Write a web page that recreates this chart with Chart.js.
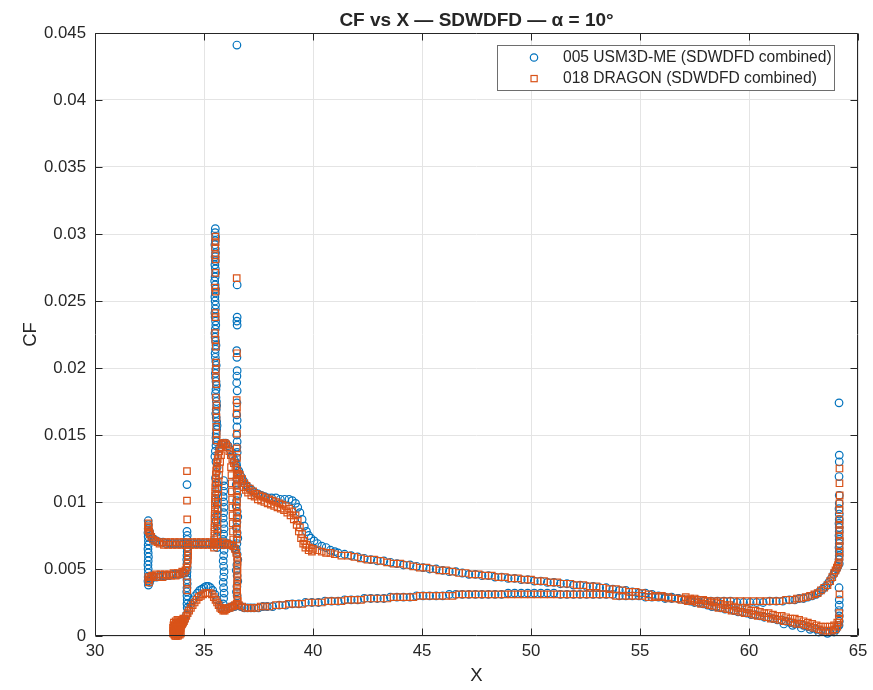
<!DOCTYPE html>
<html>
<head>
<meta charset="utf-8">
<script src="https://cdn.jsdelivr.net/npm/chart.js@4.4.1/dist/chart.umd.min.js"></script>
<style>
  html, body { margin: 0; padding: 0; background: #fff; }
  canvas { display: block; }
</style>
</head>
<body>
<canvas id="c" width="873" height="690" style="width:873px;height:690px"></canvas>
<script>
// ---------------- DATA ----------------
const chartTitle = 'CF vs X \u2014 SDWDFD \u2014 \u03b1 = 10\u00b0';
const xLabel = 'X';
const yLabel = 'CF';
const xTicks = [30, 35, 40, 45, 50, 55, 60, 65];
const yTicks = [0, 0.005, 0.01, 0.015, 0.02, 0.025, 0.03, 0.035, 0.04, 0.045];
const seriesNames = ['005 USM3D-ME (SDWDFD combined)', '018 DRAGON (SDWDFD combined)'];

// ---- 005 USM3D-ME ----
const usmNacelleEdge = [[32.44,0.0086],[32.45,0.0083],[32.44,0.0080],[32.43,0.0077],[32.44,0.0074],[32.45,0.0071],[32.44,0.0068],[32.43,0.0065],[32.44,0.0062],[32.45,0.0059],[32.44,0.0056],[32.43,0.0053],[32.44,0.0050],[32.45,0.0047],[32.44,0.0044],[32.43,0.0041],[32.45,0.0038]];
const usmNacelleUpper = [[32.5,0.0078],[32.56,0.0075],[32.63,0.0073],[32.72,0.0072],[32.83,0.0071],[32.97,0.0070],[33.12,0.0070],[33.27,0.0069],[33.42,0.0069],[33.57,0.0069],[33.72,0.0069],[33.87,0.0069],[34.02,0.0069],[34.17,0.0069],[34.32,0.0069],[34.47,0.0069],[34.62,0.0069],[34.77,0.0069],[34.92,0.0069],[35.07,0.0069],[35.22,0.0069],[35.37,0.0069],[35.52,0.0069],[35.67,0.0069],[35.82,0.0069],[35.97,0.0069],[36.12,0.0069],[36.27,0.0068],[36.38,0.0066],[36.45,0.0064]];
const usmNacelleLower = [[32.5,0.0040],[32.58,0.0043],[32.68,0.0044],[32.82,0.0044],[32.97,0.0045],[33.12,0.0045],[33.27,0.0045],[33.42,0.0045],[33.57,0.0046],[33.72,0.0046],[33.87,0.0046],[34.02,0.0047],[34.12,0.0047]];
const usmStrut = [[34.22,0.0113],[34.22,0.0078],[34.23,0.0075],[34.22,0.0072],[34.21,0.0069],[34.22,0.0066],[34.23,0.0063],[34.22,0.0060],[34.21,0.0057],[34.22,0.0054],[34.23,0.0051],[34.22,0.0048],[34.21,0.0045],[34.22,0.0042],[34.23,0.0039],[34.22,0.0036],[34.21,0.0033],[34.22,0.0030],[34.23,0.0027],[34.22,0.0024],[34.23,0.0021]];
const usmLeadingEdge = [[33.62,0.0003],[33.68,0.0002],[33.74,0.0003],[33.8,0.0004],[33.86,0.0004],[33.92,0.0006],[33.98,0.0008],[34.04,0.0010],[34.1,0.0012],[34.2,0.0016],[34.3,0.0020],[34.4,0.0024],[34.5,0.0027],[34.6,0.0030],[34.7,0.0032],[34.8,0.0034],[34.9,0.0035],[35.0,0.0036],[35.1,0.0037],[35.2,0.0037],[35.3,0.0036],[35.4,0.0034],[35.5,0.0031],[35.6,0.0027],[35.7,0.0023],[35.8,0.0021],[35.9,0.0020],[36.0,0.0020],[36.1,0.0021],[36.2,0.0021],[36.3,0.0022],[36.4,0.0022],[36.55,0.0023]];
const usmSpike = [[35.52,0.0304],[35.51,0.0301],[35.53,0.0298],[35.52,0.0295],[35.50,0.0292],[35.52,0.0289],[35.53,0.0286],[35.51,0.0283],[35.52,0.0280],[35.50,0.0277],[35.52,0.0274],[35.53,0.0271],[35.51,0.0268],[35.49,0.0265],[35.51,0.0262],[35.53,0.0259],[35.52,0.0256],[35.50,0.0253],[35.51,0.0250],[35.53,0.0247],[35.52,0.0244],[35.50,0.0241],[35.51,0.0238],[35.53,0.0235],[35.54,0.0232],[35.52,0.0229],[35.50,0.0226],[35.51,0.0223],[35.53,0.0220],[35.55,0.0217],[35.53,0.0214],[35.51,0.0211],[35.52,0.0208],[35.54,0.0205],[35.56,0.0202],[35.54,0.0199],[35.52,0.0196],[35.53,0.0193],[35.55,0.0190],[35.57,0.0187],[35.55,0.0184],[35.53,0.0181],[35.55,0.0178],[35.57,0.0175],[35.58,0.0172],[35.56,0.0169],[35.54,0.0166],[35.56,0.0163],[35.58,0.0160],[35.60,0.0157],[35.58,0.0154],[35.56,0.0151],[35.55,0.0148],[35.57,0.0145],[35.55,0.0142],[35.52,0.0138],[35.50,0.0134],[35.55,0.0130],[35.60,0.0126],[35.57,0.0122],[35.53,0.0118],[35.58,0.0114],[35.62,0.0110],[35.58,0.0106],[35.54,0.0102],[35.6,0.0098],[35.63,0.0094],[35.58,0.0090],[35.55,0.0086],[35.6,0.0082],[35.63,0.0078],[35.58,0.0074],[35.55,0.0070],[35.6,0.0066]];
const usmInnerColumn = [[35.9,0.0116],[35.92,0.0112],[35.9,0.0108],[35.88,0.0104],[35.9,0.0100],[35.92,0.0096],[35.9,0.0092],[35.88,0.0088],[35.9,0.0084],[35.92,0.0080],[35.9,0.0076],[35.88,0.0072],[35.9,0.0068],[35.92,0.0064],[35.9,0.0060],[35.88,0.0056],[35.9,0.0052],[35.92,0.0048],[35.9,0.0044],[35.88,0.0040],[35.9,0.0036],[35.92,0.0032],[35.9,0.0028],[35.88,0.0024]];
const usmAftColumn = [[36.51,0.0441],[36.52,0.0262],[36.52,0.0238],[36.51,0.0235],[36.52,0.0232],[36.5,0.0213],[36.51,0.0208],[36.52,0.0198],[36.51,0.0194],[36.5,0.0189],[36.52,0.0183],[36.51,0.0174],[36.5,0.0165],[36.52,0.0161],[36.51,0.0156],[36.5,0.0150],[36.52,0.0145],[36.51,0.0141],[36.52,0.0137],[36.5,0.0133],[36.48,0.0129],[36.52,0.0125],[36.54,0.0121],[36.5,0.0117],[36.48,0.0113],[36.52,0.0109],[36.54,0.0105],[36.5,0.0101],[36.48,0.0097],[36.52,0.0093],[36.55,0.0089],[36.51,0.0085],[36.48,0.0081],[36.52,0.0077],[36.55,0.0073],[36.51,0.0069],[36.48,0.0065],[36.52,0.0061],[36.55,0.0057],[36.51,0.0053],[36.48,0.0049],[36.52,0.0045],[36.55,0.0041],[36.51,0.0037],[36.49,0.0033],[36.52,0.0030]];
const usmUpperSurface = [[35.7,0.0140],[35.8,0.0143],[35.9,0.0144],[36.0,0.0144],[36.1,0.0142],[36.2,0.0139],[36.3,0.0135],[36.4,0.0131],[36.5,0.0127],[36.6,0.0123],[36.7,0.0119],[36.8,0.0116],[36.9,0.0113],[37.03,0.0111],[37.18,0.0109],[37.33,0.0107],[37.48,0.0106],[37.63,0.0105],[37.78,0.0104],[37.93,0.0103],[38.1,0.0103],[38.3,0.0103],[38.5,0.0102],[38.7,0.0102],[38.9,0.0102],[39.05,0.0101],[39.2,0.0099],[39.3,0.0096],[39.4,0.0092],[39.5,0.0087],[39.6,0.0082],[39.7,0.0078],[39.8,0.0075],[39.9,0.0073],[40.05,0.0071],[40.2,0.0069],[40.4,0.0067],[40.6,0.0066],[40.8,0.0064],[41.0,0.0063],[41.15,0.0062],[41.45,0.0061],[41.75,0.0060],[42.05,0.0059],[42.35,0.0058],[42.65,0.0057],[42.95,0.0056],[43.25,0.0056],[43.55,0.0055],[43.85,0.0054],[44.15,0.0053],[44.45,0.0053],[44.75,0.0052],[45.05,0.0051],[45.35,0.0050],[45.65,0.0050],[45.95,0.0049],[46.25,0.0048],[46.55,0.0048],[46.85,0.0047],[47.15,0.0046],[47.45,0.0046],[47.75,0.0045],[48.05,0.0045],[48.35,0.0044],[48.65,0.0044],[48.95,0.0043],[49.25,0.0043],[49.55,0.0042],[49.85,0.0042],[50.15,0.0041],[50.45,0.0041],[50.75,0.0040],[51.05,0.0040],[51.35,0.0039],[51.65,0.0039],[51.95,0.0038],[52.25,0.0038],[52.55,0.0037],[52.85,0.0037],[53.15,0.0036],[53.45,0.0036],[53.75,0.0035],[54.05,0.0034],[54.35,0.0034],[54.65,0.0033],[54.95,0.0032],[55.25,0.0032],[55.55,0.0031],[55.85,0.0030],[56.15,0.0029],[56.45,0.0029],[56.75,0.0028],[57.05,0.0027],[57.3,0.0026],[57.5,0.0025],[57.7,0.0025],[57.9,0.0024],[58.1,0.0023],[58.3,0.0022],[58.5,0.0022],[58.7,0.0021],[58.9,0.0020],[59.1,0.0020],[59.3,0.0019],[59.5,0.0018],[59.7,0.0018],[59.9,0.0017],[60.1,0.0016],[60.3,0.0016],[60.5,0.0015],[60.7,0.0014],[60.9,0.0014],[61.1,0.0013],[61.3,0.0012],[61.5,0.0012],[61.7,0.0011],[61.9,0.0010],[62.1,0.0009],[62.3,0.0009],[62.5,0.0008],[62.7,0.0007],[62.9,0.0006],[63.1,0.0005],[63.3,0.0004],[63.5,0.0003],[63.7,0.0003],[63.85,0.0004],[64.0,0.0005],[64.1,0.0008]];
const usmLowerSurface = [[36.7,0.0022],[36.85,0.0021],[37.0,0.0021],[37.15,0.0021],[37.3,0.0021],[37.5,0.0021],[37.7,0.0022],[37.9,0.0022],[38.15,0.0022],[38.45,0.0023],[38.75,0.0023],[39.05,0.0024],[39.35,0.0024],[39.65,0.0025],[39.95,0.0025],[40.25,0.0025],[40.55,0.0026],[40.85,0.0026],[41.15,0.0026],[41.45,0.0027],[41.75,0.0027],[42.05,0.0027],[42.35,0.0028],[42.65,0.0028],[42.95,0.0028],[43.25,0.0028],[43.55,0.0029],[43.85,0.0029],[44.15,0.0029],[44.45,0.0029],[44.75,0.0030],[45.05,0.0030],[45.35,0.0030],[45.65,0.0030],[45.95,0.0030],[46.25,0.0031],[46.55,0.0031],[46.85,0.0031],[47.15,0.0031],[47.45,0.0031],[47.75,0.0031],[48.05,0.0031],[48.35,0.0031],[48.65,0.0031],[48.95,0.0032],[49.25,0.0032],[49.55,0.0032],[49.85,0.0032],[50.15,0.0032],[50.45,0.0032],[50.75,0.0032],[51.05,0.0032],[51.35,0.0031],[51.65,0.0031],[51.95,0.0031],[52.25,0.0031],[52.55,0.0031],[52.85,0.0031],[53.15,0.0031],[53.45,0.0031],[53.75,0.0031],[54.05,0.0030],[54.35,0.0030],[54.65,0.0030],[54.95,0.0030],[55.25,0.0029],[55.55,0.0029],[55.85,0.0029],[56.15,0.0028],[56.45,0.0028],[56.75,0.0028],[57.05,0.0027],[57.35,0.0027],[57.65,0.0027],[57.95,0.0026],[58.25,0.0026],[58.55,0.0026],[58.85,0.0026],[59.15,0.0026],[59.45,0.0025],[59.75,0.0025],[60.05,0.0025],[60.35,0.0025],[60.65,0.0025],[60.95,0.0026],[61.25,0.0026],[61.55,0.0026],[61.85,0.0027],[62.1,0.0027],[62.3,0.0028],[62.5,0.0028],[62.7,0.0029],[62.9,0.0030],[63.08,0.0031],[63.22,0.0033],[63.38,0.0035],[63.52,0.0037],[63.66,0.0040],[63.78,0.0043],[63.88,0.0046],[63.95,0.0048],[64.02,0.0050],[64.08,0.0052]];
const usmTrailingBand = [[61.6,0.0009],[62.0,0.0008],[62.4,0.0006],[62.8,0.0005],[63.2,0.0003],[63.6,0.0002],[63.9,0.0003]];
const usmTrailingEdge = [[64.13,0.0174],[64.14,0.0135],[64.14,0.0130],[64.13,0.0119],[64.14,0.0105],[64.14,0.0099],[64.13,0.0095],[64.14,0.0091],[64.14,0.0087],[64.13,0.0084],[64.14,0.0081],[64.14,0.0078],[64.13,0.0075],[64.14,0.0072],[64.14,0.0069],[64.13,0.0066],[64.14,0.0063],[64.14,0.0060],[64.13,0.0057],[64.14,0.0054],[64.13,0.0036],[64.14,0.0027],[64.14,0.0023],[64.13,0.0019],[64.14,0.0015],[64.14,0.0011],[64.13,0.0008]];

// ---- 018 DRAGON ----
const dragonNacelleUpper = [[32.44,0.0082],[32.44,0.0079],[32.45,0.0084],[32.46,0.0081],[32.48,0.0078],[32.52,0.0076],[32.58,0.0074],[32.66,0.0072],[32.76,0.0071],[32.86,0.0070],[32.96,0.0069],[33.06,0.0070],[33.16,0.0068],[33.26,0.0070],[33.36,0.0068],[33.46,0.0070],[33.56,0.0068],[33.66,0.0070],[33.76,0.0068],[33.86,0.0070],[33.96,0.0068],[34.06,0.0070],[34.16,0.0068],[34.26,0.0070],[34.36,0.0068],[34.46,0.0070],[34.56,0.0068],[34.66,0.0070],[34.76,0.0068],[34.86,0.0070],[34.96,0.0068],[35.06,0.0070],[35.16,0.0068],[35.26,0.0070],[35.36,0.0068],[35.46,0.0070],[35.56,0.0068],[35.66,0.0070],[35.76,0.0068],[35.86,0.0070],[35.96,0.0068],[36.06,0.0069],[36.16,0.0068],[36.26,0.0068],[36.34,0.0067],[36.42,0.0065],[36.48,0.0062],[36.52,0.0059],[36.54,0.0056]];
const dragonNacelleLower = [[32.45,0.0044],[32.45,0.0042],[32.47,0.0040],[32.5,0.0042],[32.55,0.0044],[32.62,0.0045],[32.7,0.0044],[32.8,0.0046],[32.9,0.0044],[33.0,0.0046],[33.1,0.0044],[33.2,0.0046],[33.3,0.0045],[33.4,0.0046],[33.5,0.0045],[33.6,0.0047],[33.7,0.0045],[33.8,0.0047],[33.9,0.0046],[34.0,0.0048],[34.08,0.0047],[34.15,0.0049],[34.2,0.0051],[34.24,0.0054],[34.26,0.0057],[34.27,0.0060],[34.27,0.0063],[34.27,0.0066]];
const dragonStrut = [[34.22,0.0123],[34.22,0.0101],[34.23,0.0087],[34.22,0.0040],[34.23,0.0034]];
const dragonLeadingEdge = [[33.6,0.0004],[33.62,0.0002],[33.65,0.0006],[33.67,0.0001],[33.7,0.0003],[33.72,0.0000],[33.74,0.0005],[33.76,0.0002],[33.78,0.0007],[33.8,0.0003],[33.82,0.0001],[33.84,0.0005],[33.86,0.0003],[33.88,0.0007],[33.9,0.0004],[33.93,0.0006],[33.96,0.0008],[34.0,0.0009],[34.04,0.0010],[34.08,0.0011],[34.13,0.0013],[34.19,0.0015],[34.25,0.0017],[34.32,0.0019],[34.4,0.0021],[34.48,0.0023],[34.57,0.0025],[34.66,0.0027],[34.76,0.0029],[34.86,0.0030],[34.96,0.0031],[35.06,0.0032],[35.16,0.0032],[35.26,0.0032],[35.36,0.0031],[35.45,0.0029],[35.53,0.0027],[35.6,0.0025],[35.67,0.0023],[35.74,0.0021],[35.81,0.0020],[35.88,0.0019],[35.95,0.0019],[36.02,0.0020],[36.1,0.0021],[36.18,0.0021],[36.26,0.0022],[36.34,0.0022],[36.42,0.0023],[36.5,0.0024]];
const dragonLeadingEdgeBlob = [[33.58,0.0006],[33.6,0.0008],[33.63,0.0004],[33.66,0.0008],[33.69,0.0005],[33.71,0.0009],[33.73,0.0002],[33.75,0.0008],[33.77,0.0004],[33.79,0.0010],[33.81,0.0006],[33.83,0.0009],[33.85,0.0007],[33.87,0.0010],[33.89,0.0001],[33.91,0.0008],[33.68,0.0000],[33.64,0.0001],[33.8,0.0000],[33.96,0.0011],[34.0,0.0012],[34.05,0.0013],[33.62,0.0010],[33.7,0.0011],[33.74,0.0006],[33.78,0.0012],[33.86,0.0012],[33.92,0.0011],[33.66,0.0003],[33.82,0.0003],[33.94,0.0002],[33.58,0.0002]];
const dragonSpike = [[35.52,0.0298],[35.53,0.0294],[35.51,0.0290],[35.52,0.0284],[35.53,0.0281],[35.52,0.0271],[35.51,0.0260],[35.53,0.0257],[35.52,0.0241],[35.53,0.0238],[35.51,0.0226],[35.52,0.0221],[35.54,0.0216],[35.55,0.0204],[35.54,0.0199],[35.55,0.0193],[35.56,0.0188],[35.55,0.0178],[35.57,0.0172],[35.56,0.0168],[35.57,0.0163],[35.56,0.0156],[35.58,0.0151],[35.57,0.0146],[36.5,0.0267],[36.51,0.0211],[36.5,0.0176],[36.51,0.0171],[36.5,0.0166],[36.51,0.0151],[36.5,0.0140],[36.51,0.0133]];
const dragonLoop = [[35.46,0.0066],[35.47,0.0069],[35.47,0.0072],[35.48,0.0075],[35.48,0.0078],[35.48,0.0081],[35.49,0.0084],[35.49,0.0087],[35.49,0.0090],[35.5,0.0093],[35.5,0.0096],[35.5,0.0099],[35.51,0.0102],[35.51,0.0105],[35.52,0.0108],[35.52,0.0111],[35.53,0.0114],[35.54,0.0117],[35.55,0.0120],[35.56,0.0123],[35.58,0.0126],[35.6,0.0129],[35.63,0.0132],[35.66,0.0135],[35.7,0.0138],[35.75,0.0141],[35.81,0.0143],[35.88,0.0144],[35.95,0.0144],[36.02,0.0143],[36.09,0.0141],[36.16,0.0138],[36.23,0.0135],[36.3,0.0132],[36.37,0.0129],[36.44,0.0126],[36.51,0.0124],[36.58,0.0121],[35.6,0.0070],[35.61,0.0075],[35.62,0.0080],[35.62,0.0085],[35.63,0.0090],[35.63,0.0095],[35.64,0.0100],[35.65,0.0105],[35.66,0.0110],[35.67,0.0115],[35.69,0.0120],[35.71,0.0125],[35.74,0.0130],[35.78,0.0135],[36.24,0.0126],[36.26,0.0120],[36.27,0.0114],[36.28,0.0108],[36.29,0.0102],[36.3,0.0096],[36.31,0.0090],[36.32,0.0084],[36.33,0.0078],[36.34,0.0072]];
const dragonAftColumn = [[36.5,0.0120],[36.51,0.0116],[36.5,0.0112],[36.52,0.0108],[36.5,0.0104],[36.51,0.0100],[36.5,0.0096],[36.52,0.0092],[36.5,0.0088],[36.51,0.0084],[36.5,0.0080],[36.52,0.0076],[36.5,0.0072],[36.53,0.0053],[36.53,0.0050],[36.53,0.0047],[36.53,0.0044],[36.53,0.0041],[36.52,0.0038],[36.52,0.0035],[36.52,0.0032],[36.53,0.0029],[36.55,0.0026]];
const dragonUpperSurface = [[36.65,0.0120],[36.75,0.0117],[36.85,0.0114],[36.95,0.0112],[37.1,0.0110],[37.25,0.0108],[37.4,0.0106],[37.55,0.0105],[37.7,0.0104],[37.85,0.0103],[38.0,0.0102],[38.15,0.0101],[38.3,0.0100],[38.45,0.0099],[38.6,0.0098],[38.75,0.0097],[38.9,0.0095],[39.05,0.0093],[39.2,0.0090],[39.3,0.0086],[39.4,0.0081],[39.5,0.0076],[39.6,0.0071],[39.7,0.0068],[39.85,0.0066],[40.0,0.0065],[40.2,0.0064],[40.4,0.0063],[40.6,0.0062],[40.8,0.0062],[41.0,0.0061],[41.3,0.0060],[41.6,0.0060],[41.9,0.0059],[42.2,0.0058],[42.5,0.0057],[42.8,0.0057],[43.1,0.0056],[43.4,0.0055],[43.7,0.0054],[44.0,0.0054],[44.3,0.0053],[44.6,0.0052],[44.9,0.0051],[45.2,0.0051],[45.5,0.0050],[45.8,0.0049],[46.1,0.0049],[46.4,0.0048],[46.7,0.0047],[47.0,0.0047],[47.3,0.0046],[47.6,0.0046],[47.9,0.0045],[48.2,0.0045],[48.5,0.0044],[48.8,0.0044],[49.1,0.0043],[49.4,0.0043],[49.7,0.0042],[50.0,0.0042],[50.3,0.0041],[50.6,0.0041],[50.9,0.0040],[51.2,0.0040],[51.5,0.0039],[51.8,0.0039],[52.1,0.0038],[52.4,0.0038],[52.7,0.0037],[53.0,0.0037],[53.3,0.0036],[53.6,0.0035],[53.9,0.0035],[54.2,0.0034],[54.5,0.0033],[54.8,0.0033],[55.1,0.0032],[55.4,0.0031],[55.7,0.0030],[56.0,0.0030],[56.3,0.0029],[56.6,0.0028],[56.9,0.0027],[57.2,0.0026],[57.4,0.0026],[57.6,0.0025],[57.8,0.0024],[58.0,0.0024],[58.2,0.0023],[58.4,0.0022],[58.6,0.0021],[58.8,0.0021],[59.0,0.0020],[59.2,0.0019],[59.4,0.0019],[59.6,0.0018],[59.8,0.0017],[60.0,0.0017],[60.2,0.0016],[60.4,0.0015],[60.6,0.0015],[60.8,0.0014],[61.0,0.0013],[61.2,0.0013],[61.4,0.0012],[61.6,0.0011],[61.8,0.0011],[62.0,0.0010],[62.2,0.0009],[62.4,0.0009],[62.6,0.0008],[62.8,0.0007],[63.0,0.0006],[63.2,0.0005],[63.4,0.0004],[63.6,0.0004],[63.8,0.0004],[63.95,0.0005],[64.05,0.0007],[64.12,0.0010]];
const dragonUpperSurfaceInner = [[36.62,0.0117],[36.72,0.0114],[36.82,0.0111],[36.92,0.0109],[37.02,0.0107],[37.17,0.0105],[37.32,0.0104],[37.47,0.0102],[37.62,0.0101],[37.77,0.0100],[37.92,0.0099],[38.07,0.0098],[38.22,0.0097],[38.37,0.0096],[38.52,0.0095],[38.67,0.0094],[38.82,0.0092],[38.97,0.0090],[39.12,0.0087],[39.25,0.0083],[39.35,0.0078],[39.45,0.0073],[39.55,0.0069],[39.65,0.0066],[39.8,0.0064],[39.95,0.0063]];
const dragonTrailingBand = [[57.1,0.0029],[57.3,0.0028],[57.5,0.0028],[57.7,0.0027],[57.9,0.0027],[58.1,0.0026],[58.3,0.0025],[58.5,0.0025],[58.7,0.0024],[58.9,0.0023],[59.1,0.0023],[59.3,0.0022],[59.5,0.0021],[59.7,0.0021],[59.9,0.0020],[60.1,0.0019],[60.3,0.0019],[60.5,0.0018],[60.7,0.0017],[60.9,0.0017],[61.1,0.0016],[61.3,0.0015],[61.5,0.0015],[61.7,0.0014],[61.9,0.0013],[62.1,0.0013],[62.3,0.0012],[62.5,0.0011],[62.7,0.0010],[62.9,0.0009],[63.1,0.0008],[63.3,0.0007],[63.5,0.0007],[63.7,0.0007],[63.9,0.0008],[64.05,0.0010]];
const dragonLowerSurface = [[36.6,0.0023],[36.75,0.0022],[36.9,0.0021],[37.05,0.0021],[37.2,0.0021],[37.4,0.0021],[37.6,0.0022],[37.8,0.0022],[38.0,0.0022],[38.3,0.0023],[38.6,0.0023],[38.9,0.0024],[39.2,0.0024],[39.5,0.0024],[39.8,0.0025],[40.1,0.0025],[40.4,0.0025],[40.7,0.0026],[41.0,0.0026],[41.3,0.0026],[41.6,0.0027],[41.9,0.0027],[42.2,0.0027],[42.5,0.0028],[42.8,0.0028],[43.1,0.0028],[43.4,0.0028],[43.7,0.0029],[44.0,0.0029],[44.3,0.0029],[44.6,0.0029],[44.9,0.0030],[45.2,0.0030],[45.5,0.0030],[45.8,0.0030],[46.1,0.0030],[46.4,0.0030],[46.7,0.0031],[47.0,0.0031],[47.3,0.0031],[47.6,0.0031],[47.9,0.0031],[48.2,0.0031],[48.5,0.0031],[48.8,0.0031],[49.1,0.0031],[49.4,0.0031],[49.7,0.0031],[50.0,0.0031],[50.3,0.0031],[50.6,0.0031],[50.9,0.0031],[51.2,0.0031],[51.5,0.0031],[51.8,0.0031],[52.1,0.0031],[52.4,0.0031],[52.7,0.0031],[53.0,0.0031],[53.3,0.0031],[53.6,0.0031],[53.9,0.0030],[54.2,0.0030],[54.5,0.0030],[54.8,0.0030],[55.1,0.0030],[55.4,0.0029],[55.7,0.0029],[56.0,0.0029],[56.3,0.0028],[56.6,0.0028],[56.9,0.0028],[57.2,0.0027],[57.5,0.0027],[57.8,0.0027],[58.1,0.0026],[58.4,0.0026],[58.7,0.0026],[59.0,0.0026],[59.3,0.0026],[59.6,0.0026],[59.9,0.0026],[60.2,0.0026],[60.5,0.0026],[60.8,0.0026],[61.1,0.0026],[61.4,0.0026],[61.7,0.0027],[62.0,0.0027],[62.2,0.0028],[62.4,0.0028],[62.6,0.0029],[62.8,0.0030],[63.0,0.0031],[63.15,0.0032],[63.3,0.0034],[63.45,0.0036],[63.6,0.0038],[63.72,0.0041],[63.82,0.0044],[63.9,0.0047],[63.97,0.0049],[64.03,0.0051],[64.08,0.0053],[64.12,0.0055]];
const dragonTrailingEdge = [[64.15,0.0125],[64.15,0.0114],[64.16,0.0105],[64.15,0.0099],[64.15,0.0094],[64.15,0.0087],[64.15,0.0083],[64.15,0.0079],[64.15,0.0075],[64.16,0.0071],[64.15,0.0067],[64.15,0.0063],[64.15,0.0059],[64.15,0.0031],[64.14,0.0017],[64.14,0.0013]];

// ---------------- BUILD ----------------
const toPts = (...groups) => [].concat(...groups).map(([x, y]) => ({ x, y }));
const usmPoints = toPts(usmNacelleEdge, usmNacelleUpper, usmNacelleLower, usmStrut, usmLeadingEdge, usmSpike, usmInnerColumn, usmAftColumn, usmUpperSurface, usmLowerSurface, usmTrailingBand, usmTrailingEdge);
const dragonPoints = toPts(dragonNacelleUpper, dragonNacelleLower, dragonStrut, dragonLeadingEdge, dragonLeadingEdgeBlob, dragonSpike, dragonLoop, dragonAftColumn, dragonUpperSurface, dragonUpperSurfaceInner, dragonTrailingBand, dragonLowerSurface, dragonTrailingEdge);

const BLUE = '#0072BD';
const ORANGE = '#D95319';
const AXIS = '#262626';
const FONT = '"Liberation Sans", Arial, Helvetica, sans-serif';

const matlabAxes = {
  id: 'matlabAxes',
  afterDraw(chart) {
    const { ctx, chartArea: a, scales } = chart;
    const L = Math.round(a.left) + 0.5, R = Math.round(a.right) - 0.5;
    const T = Math.round(a.top) + 0.5, B = Math.round(a.bottom) - 0.5;
    ctx.save();
    // title centred over the axes
    ctx.fillStyle = AXIS;
    ctx.font = 'bold 19px ' + FONT;
    ctx.textAlign = 'center';
    ctx.textBaseline = 'middle';
    ctx.fillText(chartTitle, (a.left + a.right) / 2, 20.5);

    ctx.strokeStyle = AXIS;
    ctx.lineWidth = 1;
    ctx.beginPath();
    ctx.rect(L, T, R - L, B - T);
    const tl = 7;
    scales.x.ticks.forEach(t => {
      const px = Math.round(scales.x.getPixelForValue(t.value)) + 0.5;
      ctx.moveTo(px, B); ctx.lineTo(px, B - tl);
      ctx.moveTo(px, T); ctx.lineTo(px, T + tl);
    });
    scales.y.ticks.forEach(t => {
      const py = Math.round(scales.y.getPixelForValue(t.value)) + 0.5;
      ctx.moveTo(L, py); ctx.lineTo(L + tl, py);
      ctx.moveTo(R, py); ctx.lineTo(R - tl, py);
    });
    ctx.stroke();

    // legend (inside the axes, top right)
    const box = { left: 497.5, top: 45.5, width: 337, height: 45 };
    ctx.fillStyle = '#ffffff';
    ctx.fillRect(box.left, box.top, box.width, box.height);
    ctx.strokeStyle = '#6e6e6e';
    ctx.strokeRect(box.left, box.top, box.width, box.height);
    const rows = [57.5, 78.5];
    const ds = chart.data.datasets;
    ctx.lineWidth = 1.2;
    ctx.strokeStyle = BLUE;
    ctx.beginPath(); ctx.arc(534, rows[0], 3.7, 0, Math.PI * 2); ctx.stroke();
    ctx.strokeStyle = ORANGE;
    ctx.strokeRect(531, rows[1] - 3, 6.2, 6.2);
    ctx.fillStyle = AXIS;
    ctx.font = '15.6px ' + FONT;
    ctx.textBaseline = 'middle';
    ctx.textAlign = 'left';
    ctx.fillText(ds[0].label, 563, rows[0]);
    ctx.fillText(ds[1].label, 563, rows[1]);
    ctx.restore();
  }
};

new Chart(document.getElementById('c'), {
  type: 'scatter',
  data: {
    datasets: [
      {
        label: seriesNames[0],
        data: usmPoints,
        pointStyle: 'circle',
        pointRadius: 3.8,
        pointBorderWidth: 1.2,
        borderColor: BLUE,
        backgroundColor: 'rgba(0,0,0,0)',
        clip: false,
        order: 1
      },
      {
        label: seriesNames[1],
        data: dragonPoints,
        pointStyle: 'rect',
        pointRadius: 4.6,
        pointBorderWidth: 1.2,
        borderColor: ORANGE,
        backgroundColor: 'rgba(0,0,0,0)',
        clip: false,
        order: 0
      }
    ]
  },
  options: {
    responsive: false,
    animation: false,
    devicePixelRatio: 1,
    layout: { padding: { left: 0, right: 15, top: 33, bottom: 0 } },
    plugins: {
      legend: { display: false },
      tooltip: { enabled: false },
      title: { display: false }
    },
    scales: {
      x: {
        type: 'linear',
        min: xTicks[0],
        max: xTicks[xTicks.length - 1],
        afterBuildTicks: s => { s.ticks = xTicks.map(v => ({ value: v })); },
        ticks: { color: AXIS, font: { family: FONT, size: 16.8 }, padding: 5, maxRotation: 0, autoSkip: false, callback: v => String(v) },
        grid: { color: '#e4e4e4', lineWidth: 1, drawTicks: false },
        border: { display: false },
        title: { display: true, text: xLabel, color: AXIS, font: { family: FONT, size: 18.5 }, padding: { top: 0, bottom: 3 } },
        afterFit: s => { s.height = 54; s.paddingLeft = 0; s.paddingRight = 0; }
      },
      y: {
        type: 'linear',
        min: yTicks[0],
        max: yTicks[yTicks.length - 1],
        afterBuildTicks: s => { s.ticks = yTicks.map(v => ({ value: v })); },
        ticks: { color: AXIS, font: { family: FONT, size: 16.8 }, padding: 9, autoSkip: false, callback: v => String(+v.toFixed(3)) },
        grid: { color: '#e4e4e4', lineWidth: 1, drawTicks: false },
        border: { display: false },
        title: { display: true, text: yLabel, color: AXIS, font: { family: FONT, size: 18.5 }, padding: { top: 20, bottom: 0 } },
        afterFit: s => { s.width = 95; s.paddingTop = 0; s.paddingBottom = 0; }
      }
    }
  },
  plugins: [matlabAxes]
});
</script>
</body>
</html>
